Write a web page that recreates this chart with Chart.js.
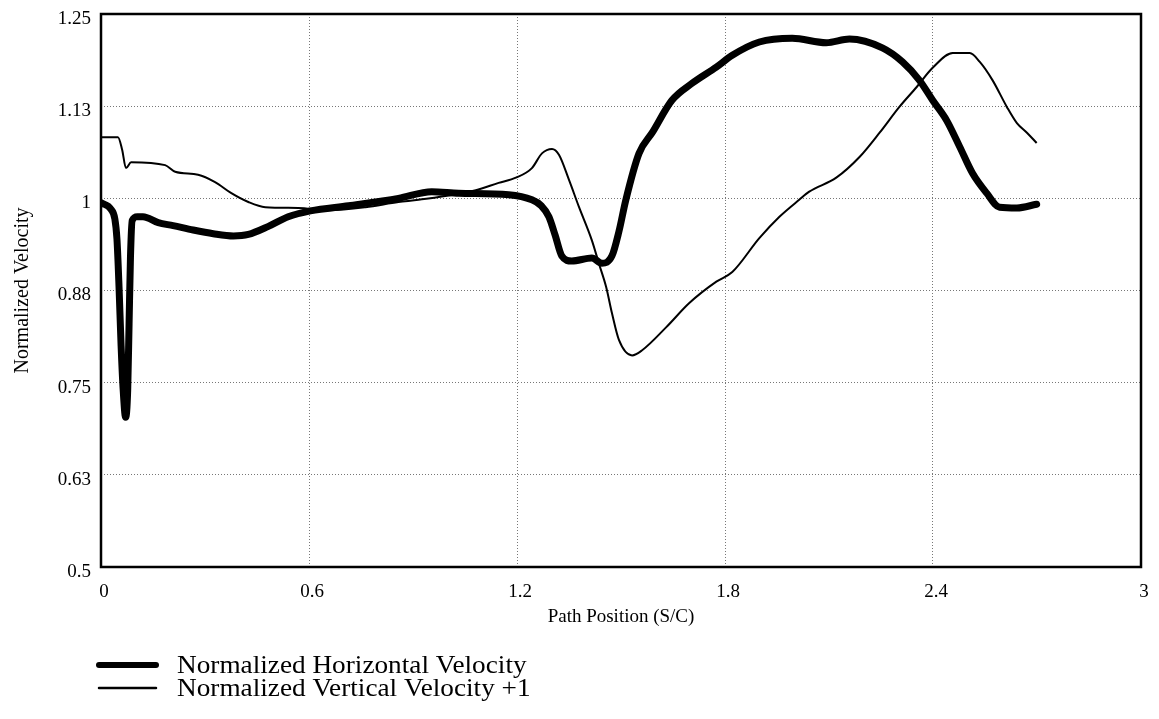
<!DOCTYPE html>
<html>
<head>
<meta charset="utf-8">
<script src="https://cdn.jsdelivr.net/npm/chart.js@4.4.1/dist/chart.umd.min.js"></script>
<style>
  html, body { margin: 0; padding: 0; background: #fff; }
  #wrap { width: 1159px; height: 719px; }
</style>
</head>
<body>
<div id="wrap"><canvas id="velocityChart" width="1159" height="719"></canvas></div>
<script>
// axis ticks
const xTicks = [0, 0.6, 1.2, 1.8, 2.4, 3];
const xTickLabels = ['0', '0.6', '1.2', '1.8', '2.4', '3'];
const yTicks = [0.5, 0.625, 0.75, 0.875, 1, 1.125, 1.25];
const yTickLabels = ['0.5', '0.63', '0.75', '0.88', '1', '1.13', '1.25'];

// Normalized Horizontal Velocity
const horizX = [0, 0.029, 0.040, 0.046, 0.052, 0.058, 0.064, 0.071, 0.077, 0.081, 0.085, 0.090, 0.105, 0.121,
  0.165, 0.208, 0.266, 0.324, 0.382, 0.425, 0.483, 0.540, 0.604, 0.714, 0.858, 0.954, 1.032, 1.176, 1.243,
  1.270, 1.292, 1.310, 1.329, 1.358, 1.416, 1.445, 1.474, 1.494, 1.514, 1.552, 1.590, 1.647, 1.705, 1.775,
  1.821, 1.899, 1.994, 2.092, 2.159, 2.254, 2.312, 2.361, 2.399, 2.439, 2.477, 2.514, 2.555, 2.592, 2.642, 2.699];
const horizY = [0.994, 0.985, 0.972, 0.945, 0.880, 0.800, 0.740, 0.703, 0.740, 0.830, 0.920, 0.970, 0.975, 0.975,
  0.967, 0.963, 0.957, 0.952, 0.949, 0.951, 0.962, 0.975, 0.983, 0.990, 1.000, 1.009, 1.007, 1.005, 0.998,
  0.990, 0.975, 0.950, 0.922, 0.915, 0.919, 0.912, 0.922, 0.955, 0.998, 1.061, 1.089, 1.133, 1.156, 1.178,
  1.194, 1.212, 1.217, 1.211, 1.216, 1.204, 1.185, 1.160, 1.133, 1.106, 1.070, 1.034, 1.007, 0.988, 0.987, 0.992];

// Normalized Vertical Velocity +1
const vertX = [0, 0.049, 0.061, 0.072, 0.087, 0.185, 0.214, 0.280, 0.329, 0.376, 0.425, 0.474, 0.569, 0.656,
  0.763, 0.858, 0.916, 1.081, 1.147, 1.197, 1.243, 1.272, 1.301, 1.321, 1.350, 1.379, 1.416, 1.436, 1.457,
  1.474, 1.494, 1.532, 1.561, 1.630, 1.697, 1.775, 1.821, 1.899, 1.957, 2.014, 2.043, 2.121, 2.188, 2.246,
  2.303, 2.353, 2.399, 2.457, 2.506, 2.535, 2.572, 2.613, 2.642, 2.671, 2.699];
const vertY = [1.083, 1.083, 1.066, 1.041, 1.049, 1.045, 1.036, 1.032, 1.022, 1.007, 0.995, 0.988, 0.987, 0.984,
  0.988, 0.995, 0.998, 1.011, 1.021, 1.028, 1.041, 1.061, 1.067, 1.059, 1.025, 0.988, 0.943, 0.912, 0.880,
  0.844, 0.808, 0.787, 0.794, 0.825, 0.858, 0.887, 0.900, 0.946, 0.975, 0.998, 1.009, 1.028, 1.056, 1.089,
  1.124, 1.151, 1.177, 1.197, 1.197, 1.185, 1.160, 1.124, 1.102, 1.089, 1.075];

const serif = "'Liberation Serif', 'Times New Roman', serif";

function toPoints(xs, ys) {
  return xs.map((x, i) => ({ x: x, y: ys[i] }));
}

// frame around the plot area plus the stacked legend under the chart
const framePlugin = {
  id: 'frame',
  afterDraw(chart) {
    const { ctx, chartArea } = chart;
    ctx.save();
    ctx.strokeStyle = '#000';
    ctx.lineWidth = 2.5;
    ctx.strokeRect(chartArea.left, chartArea.top, chartArea.right - chartArea.left, chartArea.bottom - chartArea.top);

    // legend
    const rows = [665, 688];
    ctx.font = '25px ' + serif;
    ctx.textBaseline = 'middle';
    ctx.fillStyle = '#000';
    chart.data.datasets.forEach((ds, i) => {
      ctx.beginPath();
      ctx.lineWidth = ds.legendWidth;
      ctx.lineCap = 'round';
      ctx.moveTo(99, rows[i]);
      ctx.lineTo(156, rows[i]);
      ctx.stroke();
      // the scanned original text is a bit wider than the font
      ctx.save();
      ctx.translate(177, rows[i] + 1);
      ctx.scale(1.09, 1);
      ctx.fillText(ds.label, 0, 0);
      ctx.restore();
    });
    ctx.restore();
  }
};

const ctx = document.getElementById('velocityChart').getContext('2d');
const velocityChart = new Chart(ctx, {
  type: 'line',
  data: {
    datasets: [
      {
        label: 'Normalized Horizontal Velocity',
        data: toPoints(horizX, horizY),
        borderColor: '#000',
        borderWidth: 7,
        legendWidth: 6,
        pointRadius: 0,
        cubicInterpolationMode: 'monotone',
        borderJoinStyle: 'round',
        borderCapStyle: 'round',
        fill: false,
      },
      {
        label: 'Normalized Vertical Velocity +1',
        data: toPoints(vertX, vertY),
        borderColor: '#000',
        borderWidth: 2,
        legendWidth: 2.5,
        pointRadius: 0,
        cubicInterpolationMode: 'monotone',
        fill: false,
      },
    ],
  },
  options: {
    responsive: false,
    animation: false,
    events: [],
    layout: { padding: { left: 0, top: 14, right: 18, bottom: 80 } },
    plugins: {
      legend: { display: false },
      tooltip: { enabled: false },
    },
    scales: {
      x: {
        type: 'linear',
        min: 0,
        max: 3,
        afterBuildTicks: (scale) => { scale.ticks = xTicks.map(v => ({ value: v })); },
        afterFit: (scale) => {
          scale.height = 72;
          scale.paddingLeft = 0;
          scale.paddingRight = 0;
        },
        ticks: {
          color: '#000',
          padding: 14,
          labelOffset: 3,
          maxRotation: 0,
          font: { family: serif, size: 19 },
          callback: (value, index) => xTickLabels[index],
        },
        grid: {
          color: '#777',
          lineWidth: 1,
          drawTicks: false,
        },
        border: { display: false, dash: [1, 2] },
        title: {
          display: true,
          text: 'Path Position (S/C)',
          color: '#000',
          font: { family: serif, size: 19 },
          padding: { top: 0, bottom: 11 },
        },
      },
      y: {
        type: 'linear',
        min: 0.5,
        max: 1.25,
        afterBuildTicks: (scale) => { scale.ticks = yTicks.map(v => ({ value: v })); },
        afterFit: (scale) => {
          scale.width = 101;
          scale.paddingTop = 0;
          scale.paddingBottom = 0;
        },
        ticks: {
          color: '#000',
          padding: 10,
          labelOffset: 5,
          font: { family: serif, size: 19 },
          callback: (value, index) => yTickLabels[index],
        },
        grid: {
          color: '#777',
          lineWidth: 1,
          drawTicks: false,
        },
        border: { display: false, dash: [1, 2] },
        title: {
          display: true,
          text: 'Normalized Velocity',
          color: '#000',
          font: { family: serif, size: 20 },
          padding: { top: 11, bottom: 0 },
        },
      },
    },
  },
  plugins: [framePlugin],
});
</script>
</body>
</html>
